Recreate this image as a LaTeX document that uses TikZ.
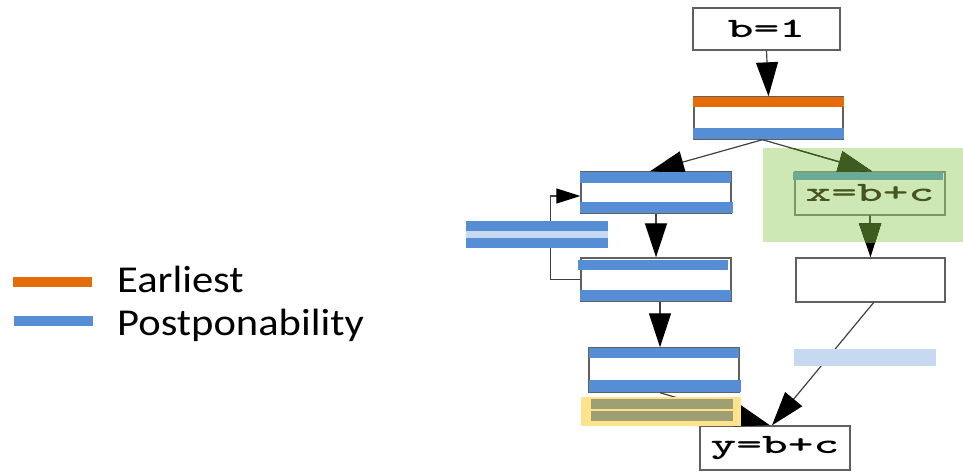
\documentclass[tikz,border=0pt]{standalone}
\usepackage{fontspec}
\setmainfont{Carlito}
\usetikzlibrary{arrows.meta}

% wide bold typewriter text used inside the blocks
\newcommand\cdtxt[1]{\scalebox{1.75}[1]{\ttfamily\bfseries\fontsize{28}{28}\selectfont #1}}

\definecolor{orng}{RGB}{228,108,10}
\definecolor{blu}{RGB}{85,142,213}
\definecolor{ltblu}{RGB}{198,217,240}
\definecolor{grn}{RGB}{205,232,180}
\definecolor{tealbar}{RGB}{106,170,150}
\definecolor{olv}{RGB}{62,92,30}
\definecolor{olvframe}{RGB}{128,150,96}
\definecolor{olvtext}{RGB}{72,84,30}
\definecolor{ylw}{RGB}{255,226,140}
\definecolor{olvbar}{RGB}{158,160,115}
\definecolor{frame}{RGB}{96,96,96}

\tikzset{
  x=1pt, y=-1pt,
  blk/.style={draw=frame, line width=1.4pt, fill=white, inner sep=0pt,
              minimum width=150pt, minimum height=43pt},
  conn/.style={draw=black!75, line width=1.2pt,
               -{Triangle[length=34pt,width=22pt,color=black]}},
  connolv/.style={draw=olv, line width=1.2pt,
               -{Triangle[length=34pt,width=22pt,color=olv]}},
  loopconn/.style={draw=black!75, line width=1.2pt,
               -{Triangle[length=24pt,width=15pt,color=black]}},
  legend/.style={anchor=base west, inner sep=0pt,
                 font=\fontsize{38}{38}\selectfont},
}

\begin{document}
\begin{tikzpicture}
\useasboundingbox (0,0) rectangle (963,472);

% highlighted region behind x=b+c
\fill[grn] (763,148) rectangle (963,242);

% blocks
\node[blk, minimum width=147pt, minimum height=42pt] (b1) at (766.5,29) {\cdtxt{b=1}};
\node[blk, minimum width=149pt, minimum height=42pt] (n2) at (768.5,118) {};
\node[blk, minimum height=41pt] (n3) at (656,192.5) {};
\node[blk] (n4) at (656,279.5) {};
\node[blk, minimum height=44pt] (n5) at (664,370) {};
\node[blk, draw=olvframe, fill=grn] (xbc) at (870,193.5) {\textcolor{olvtext}{\cdtxt{x=b+c}}};
\node[blk, minimum width=149pt, minimum height=44pt] (n6) at (870.5,280) {};
\node[blk, minimum height=44pt] (ybc) at (775,448) {\cdtxt{y=b+c}};

% connectors
\draw[conn] (b1.south) -- (n2.north);
\draw[conn] ([xshift=-6pt]n2.south) -- ([xshift=-6pt]n3.north);
\draw[conn] ([xshift=-6pt]n2.south) -- ([xshift=2pt]xbc.north);
\draw[conn] (n3.south) -- (n4.north);
\draw[loopconn] (n4.west) -- ++(-30,0) |- ([yshift=-3.5pt]n3.west);
\draw[conn] ([xshift=4pt]n4.south) -- ([xshift=-4pt]n5.north);
\draw[conn] ([xshift=-4pt]n5.south) -- ([xshift=-5pt]ybc.north);
\draw[conn] (xbc.south) -- (n6.north);
\draw[conn] ([xshift=3pt]n6.south) -- ([xshift=-3pt]ybc.north);

% the part of the connectors inside the highlighted region
\begin{scope}
  \clip (763,148) rectangle (963,242);
  \draw[connolv] ([xshift=-6pt]n2.south) -- ([xshift=2pt]xbc.north);
  \draw[connolv] (xbc.south) -- (n6.north);
\end{scope}

% Earliest / Postponability bars on the blocks
\fill[orng] (693,97) rectangle (844,107);
\fill[blu]  (693,128) rectangle (844,139);
\fill[blu]  (580,172) rectangle (731,183);
\fill[blu]  (580,202) rectangle (733,213);
\fill[blu]  (578,260) rectangle (728,270);
\fill[blu]  (580,290) rectangle (731,301);
\fill[blu]  (589,348) rectangle (739,358);
\fill[blu]  (589,380) rectangle (741,392);
\fill[tealbar] (793,172) rectangle (943,180);

% bars on the edges
\fill[blu]   (466,221) rectangle (608,231);
\fill[ltblu] (466,231) rectangle (608,238);
\fill[blu]   (466,238) rectangle (608,248);
\fill[ltblu] (794,349) rectangle (936,366);

% highlighted bars above y=b+c
\fill[ylw] (581,397) rectangle (741,426);
\fill[olvbar] (591,399) rectangle (733,409);
\fill[olvbar] (591,411) rectangle (733,421);

% legend
\draw[orng, line width=10pt] (13,282) -- (92,282);
\draw[blu, line width=10pt] (14,321) -- (93,321);
\node[legend] (lgE) at (117,292) {\scalebox{1.12}[1]{Earliest}};
\node[legend] (lgP) at (117,335) {\scalebox{1.12}[1]{Postponability}};
\end{tikzpicture}
\end{document}
